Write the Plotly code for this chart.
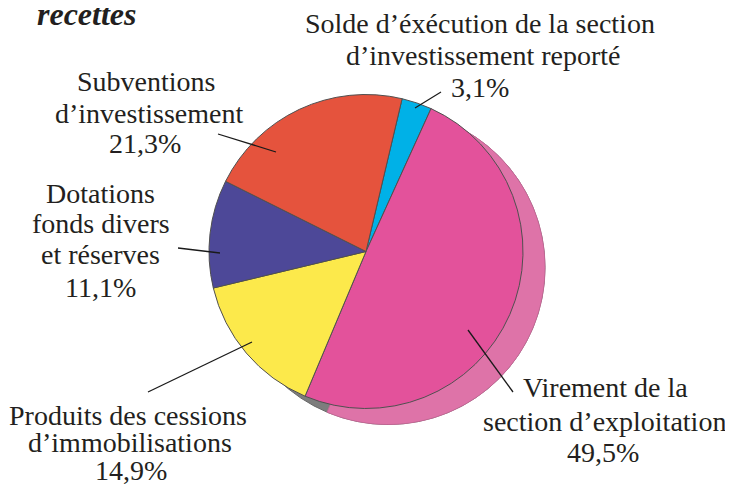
import numpy as np
import plotly.graph_objects as go

# page body has an 8px margin: the figure is sized so that it fills the 733x484 window
PAGE_OFF = 8
W, H = 733 - PAGE_OFF, 484 - PAGE_OFF

# ---- data ----
categories = [
    "Solde d’éxécution de la section d’investissement reporté",
    "Virement de la section d’exploitation",
    "Produits des cessions d’immobilisations",
    "Dotations fonds divers et réserves",
    "Subventions d’investissement",
]
values = [3.1, 49.5, 14.9, 11.1, 21.3]
value_labels = ["3,1%", "49,5%", "14,9%", "11,1%", "21,3%"]
label_lines = [
    ["Solde d’éxécution de la section", "d’investissement reporté"],
    ["Virement de la", "section d’exploitation"],
    ["Produits des cessions", "d’immobilisations"],
    ["Dotations", "fonds divers", "et réserves"],
    ["Subventions", "d’investissement"],
]
colors = ["#00B1E7", "#E3529B", "#FCE94B", "#4D4898", "#E5533D"]

# ---- layout helpers (window pixel -> paper) ----
def px(x):
    return (x - PAGE_OFF) / W

def py(y):
    return 1 - (y - PAGE_OFF) / H

cx, cy, r = 366, 251.5, 157
off_x, off_y = 22, 16
rotation = 13.3

fig = go.Figure()
fig.add_trace(go.Pie(
    labels=categories, values=values, sort=False, direction="clockwise",
    rotation=rotation, textinfo="none", hoverinfo="label+percent",
    marker=dict(colors=colors, line=dict(color="#505050", width=1)),
    domain=dict(x=[px(cx - r), px(cx + r)], y=[py(cy + r), py(cy - r)]),
    showlegend=False,
))

shapes = []
# shadow (gray full disc, pink sector extruded from the large slice)
scx, scy = cx + off_x, cy + off_y
shapes.append(dict(type="circle", xref="paper", yref="paper", layer="below",
                   x0=px(scx - r), x1=px(scx + r), y0=py(scy + r), y1=py(scy - r),
                   fillcolor="#7D7D7D", line=dict(color="#666666", width=1)))
total = sum(values)
a0 = rotation + 360 * values[0] / total
a1 = a0 + 360 * values[1] / total
angs = np.radians(np.linspace(a0, a1, 80))
pts = [(scx, scy)] + [(scx + r * np.sin(a), scy - r * np.cos(a)) for a in angs]
path = "M " + " L ".join(f"{px(x):.5f},{py(y):.5f}" for x, y in pts) + " Z"
shapes.append(dict(type="path", xref="paper", yref="paper", layer="below", path=path,
                   fillcolor="#DE73A8", line=dict(color="#C96497", width=0.8)))

# leader lines
leaders = [
    ((415, 108), (441, 92)),
    ((468, 330), (513, 392)),
    ((252, 342), (148, 392)),
    ((220, 253), (178, 248)),
    ((276, 152), (218, 134)),
]
for (x0, y0), (x1, y1) in leaders:
    shapes.append(dict(type="line", xref="paper", yref="paper",
                       x0=px(x0), y0=py(y0), x1=px(x1), y1=py(y1),
                       line=dict(color="#1a1a1a", width=1.3)))

# label placement: (center x, baselines)
label_pos = [
    ([480, 483, 480], [33, 65, 97]),
    ([605, 604, 603], [397, 431, 462]),
    ([128, 130, 131], [425, 452, 480]),
    ([100, 101, 100, 100], [203, 233, 264, 297]),
    ([146, 149, 145], [91, 123, 153]),
]

font = dict(family="Liberation Serif, Times New Roman, serif", size=28, color="#231f20")
annotations = []
for lines, vlab, (xs, bs) in zip(label_lines, value_labels, label_pos):
    texts = lines + [vlab]
    for t, x, b in zip(texts, xs, bs):
        annotations.append(dict(text=t, x=px(x), y=py(b - 9.5), xref="paper", yref="paper",
                                xanchor="center", yanchor="middle", showarrow=False, font=font))

annotations.append(dict(text="<b><i>recettes</i></b>", x=px(86.5), y=py(25 - 10.5),
                        xref="paper", yref="paper", xanchor="center", yanchor="middle",
                        showarrow=False,
                        font=dict(family="Liberation Serif, Times New Roman, serif", size=32,
                                  color="#231f20")))
annotations.append(dict(text="D", x=px(727), y=py(123 - 9.5), xref="paper", yref="paper",
                        xanchor="left", yanchor="middle", showarrow=False, font=font))

fig.update_layout(
    width=W, height=H, margin=dict(l=0, r=0, t=0, b=0),
    paper_bgcolor="white", plot_bgcolor="white",
    shapes=shapes, annotations=annotations,
)
fig.write_html("out.html")
